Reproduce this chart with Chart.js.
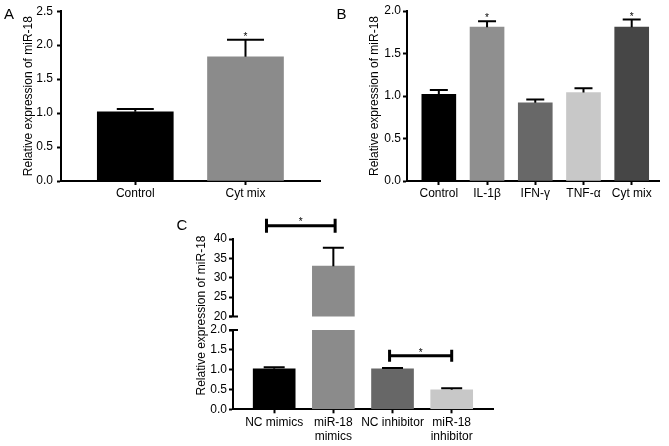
<!DOCTYPE html>
<html>
<head>
<meta charset="utf-8">
<script src="https://cdn.jsdelivr.net/npm/chart.js@4.4.1/dist/chart.umd.min.js"></script>
<style>
  html, body { margin: 0; padding: 0; background: #fff; }
  #figure { position: relative; width: 669px; height: 446px; overflow: hidden; background: #fff; }
  #figure canvas { position: absolute; }
</style>
</head>
<body>
<div id="figure">
  <canvas id="chartA" width="330" height="220" style="left:0;top:0"></canvas>
  <canvas id="chartB" width="339" height="220" style="left:330px;top:0"></canvas>
  <canvas id="chartCTop" width="330" height="246" style="left:170px;top:200px"></canvas>
  <canvas id="chartCBottom" width="330" height="246" style="left:170px;top:200px"></canvas>
</div>
<script>
// Panel A - control vs cytokine mix
const panelALabels = ['Control', 'Cyt mix'];
const panelAMeans = [1.02, 1.83];
const panelAErrors = [0.04, 0.25];
const panelAStars = ['', '*'];

// Panel B - single cytokines
const panelBLabels = ['Control', 'IL-1β', 'IFN-γ', 'TNF-α', 'Cyt mix'];
const panelBMeans = [1.02, 1.81, 0.92, 1.04, 1.81];
const panelBErrors = [0.05, 0.07, 0.04, 0.05, 0.09];
const panelBStars = ['', '*', '', '', '*'];

// Panel C - mimics / inhibitor (broken y axis)
const panelCLabels = [['NC mimics'], ['miR-18', 'mimics'], ['NC inhibitor'], ['miR-18', 'inhibitor']];
const panelCMeans = [1.02, 33.0, 1.02, 0.49];
const panelCErrors = [0.04, 4.75, 0.02, 0.04];

// y tick labels
const ticksAB = [0, 0.5, 1.0, 1.5, 2.0, 2.5];
const ticksCTop = [20, 25, 30, 35, 40];

const FONT = "'Liberation Sans', Arial, Helvetica, sans-serif";
const Y_TITLE = 'Relative expression of miR-18';

Chart.defaults.font.family = FONT;
Chart.defaults.font.size = 12;
Chart.defaults.color = '#000';

const colorsA = ['#000000', '#8b8b8b'];
const colorsB = ['#000000', '#8f8f8f', '#686868', '#c8c8c8', '#464646'];
const colorsC = ['#000000', '#8b8b8b', '#676767', '#c8c8c8'];

function drawText(ctx, t) {
    ctx.save();
    ctx.font = (t.size || 12) + 'px ' + FONT;
    ctx.fillStyle = '#000';
    ctx.textAlign = t.align || 'left';
    ctx.textBaseline = t.baseline || 'alphabetic';
    ctx.translate(t.x, t.y);
    if (t.rotate) ctx.rotate(t.rotate);
    ctx.fillText(t.text, 0, 0);
    ctx.restore();
}

function makePanel(canvasId, p) {
    // error bars, stars, brackets, axis break marks and panel letters
    const decor = {
        id: 'panelDecor',
        afterDraw(chart) {
            const { ctx, chartArea } = chart;
            const xs = chart.scales.x;
            const ys = chart.scales.y;
            ctx.save();
            ctx.strokeStyle = '#000';
            ctx.fillStyle = '#000';
            ctx.lineWidth = 2;

            p.means.forEach((m, i) => {
                if (m < ys.min || m > ys.max) return;
                const px = xs.getPixelForValue(i);
                const yBar = ys.getPixelForValue(m);
                const yTop = ys.getPixelForValue(m + p.errors[i]);
                ctx.beginPath();
                ctx.moveTo(px, yBar);
                ctx.lineTo(px, yTop);
                ctx.moveTo(px - p.capWidth / 2, yTop);
                ctx.lineTo(px + p.capWidth / 2, yTop);
                ctx.stroke();
                if (p.stars && p.stars[i]) {
                    drawText(ctx, { text: p.stars[i], x: px, y: yTop, size: 10, align: 'center' });
                }
            });

            (p.brackets || []).forEach(b => {
                const x1 = xs.getPixelForValue(b.from);
                const x2 = xs.getPixelForValue(b.to);
                const y = ys.getPixelForValue(b.y);
                ctx.lineWidth = 3;
                ctx.beginPath();
                ctx.moveTo(x1, y); ctx.lineTo(x2, y);
                ctx.moveTo(x1, y - b.tick); ctx.lineTo(x1, y + b.tick);
                ctx.moveTo(x2, y - b.tick); ctx.lineTo(x2, y + b.tick);
                ctx.stroke();
                drawText(ctx, { text: '*', x: (x1 + x2) / 2, y: y + b.starDy, size: 10, align: 'center' });
            });

            if (p.breakAt) {
                const yb = p.breakAt === 'bottom' ? chartArea.bottom : chartArea.top;
                ctx.lineWidth = 2;
                ctx.beginPath();
                ctx.moveTo(chartArea.left - 4, yb);
                ctx.lineTo(chartArea.left + 5, yb);
                ctx.stroke();
            }

            (p.texts || []).forEach(t => drawText(ctx, t));
            ctx.restore();
        }
    };

    const axisBorder = { display: true, color: '#000', width: 2 };

    const xScale = {
        type: 'linear',
        min: p.xMin,
        max: p.xMax,
        offset: false,
        display: p.showX,
        z: 1,
        afterBuildTicks: s => { s.ticks = p.labels.map((_, i) => ({ value: i })); },
        ticks: {
            autoSkip: false,
            maxRotation: 0,
            padding: p.xPad,
            callback: (v, i) => p.labels[i]
        },
        grid: { display: true, offset: false, drawOnChartArea: false, tickLength: 4, tickWidth: 2, color: '#000' },
        border: axisBorder
    };
    if (p.showX) xScale.afterFit = s => { s.height = p.xHeight; };

    const yScale = {
        type: 'linear',
        min: p.yTicks[0],
        max: p.yTicks[p.yTicks.length - 1],
        z: 1,
        afterFit: s => { s.width = p.yWidth; },
        afterBuildTicks: s => { s.ticks = p.yTicks.map(v => ({ value: v })); },
        ticks: { padding: p.yPad, callback: p.yFormat },
        grid: { display: true, drawOnChartArea: false, tickLength: 4, tickWidth: 2, color: '#000' },
        border: axisBorder,
        title: p.titlePad == null ? { display: false } : {
            display: true,
            text: Y_TITLE,
            font: { size: 12 },
            padding: { top: p.titlePad, bottom: 0 }
        }
    };

    return new Chart(document.getElementById(canvasId), {
        type: 'bar',
        data: {
            datasets: [{
                data: p.means.map((m, i) => ({ x: i, y: m })),
                backgroundColor: p.colors,
                borderWidth: 0,
                barThickness: p.barWidth,
                clip: 0
            }]
        },
        options: {
            responsive: false,
            animation: false,
            events: [],
            layout: { padding: p.padding },
            plugins: { legend: { display: false }, tooltip: { enabled: false } },
            scales: { x: xScale, y: yScale }
        },
        plugins: [decor]
    });
}

const oneDecimal = v => v.toFixed(1);

makePanel('chartA', {
    labels: panelALabels, means: panelAMeans, errors: panelAErrors, stars: panelAStars,
    colors: colorsA, barWidth: 76, capWidth: 37,
    xMin: -0.674, xMax: 1.676, showX: true, xHeight: 39, xPad: 1,
    yTicks: ticksAB, yFormat: oneDecimal, yWidth: 61, yPad: 4, titlePad: 21,
    padding: { left: 0, top: 10, right: 10, bottom: 0 },
    texts: [{ text: 'A', x: 4, y: 18.5, size: 15 }]
});

makePanel('chartB', {
    labels: panelBLabels, means: panelBMeans, errors: panelBErrors, stars: panelBStars,
    colors: colorsB, barWidth: 34, capWidth: 18,
    xMin: -0.66, xMax: 4.566, showX: true, xHeight: 39, xPad: 1,
    yTicks: ticksAB.slice(0, 5), yFormat: oneDecimal, yWidth: 77, yPad: 2, titlePad: 37,
    padding: { left: 0, top: 11, right: 10, bottom: 0 },
    texts: [{ text: 'B', x: 6.5, y: 19, size: 15 }]
});

makePanel('chartCTop', {
    labels: panelCLabels, means: panelCMeans, errors: panelCErrors,
    colors: colorsC, barWidth: 42, capWidth: 21,
    xMin: -0.696, xMax: 3.698, showX: false, xPad: 2,
    yTicks: ticksCTop, yFormat: v => String(v), yWidth: 63, yPad: 2, titlePad: null,
    padding: { left: 0, top: 39, right: 7, bottom: 129.5 },
    breakAt: 'bottom',
    brackets: [{ from: -0.13, to: 1.03, y: 43.4, tick: 7, starDy: -1 }]
});

makePanel('chartCBottom', {
    labels: panelCLabels, means: panelCMeans, errors: panelCErrors,
    colors: colorsC, barWidth: 42, capWidth: 21,
    xMin: -0.696, xMax: 3.698, showX: true, xHeight: 36.7, xPad: 2,
    yTicks: ticksAB.slice(0, 5), yFormat: oneDecimal, yWidth: 63, yPad: 2, titlePad: null,
    padding: { left: 0, top: 130, right: 7, bottom: 0 },
    breakAt: 'top',
    brackets: [{ from: 1.95, to: 3.0, y: 1.35, tick: 6, starDy: 0 }],
    texts: [
        { text: 'C', x: 6.5, y: 30, size: 15 },
        { text: Y_TITLE, x: 31.5, y: 115.5, size: 12, align: 'center', baseline: 'middle', rotate: -Math.PI / 2 }
    ]
});
</script>
</body>
</html>
